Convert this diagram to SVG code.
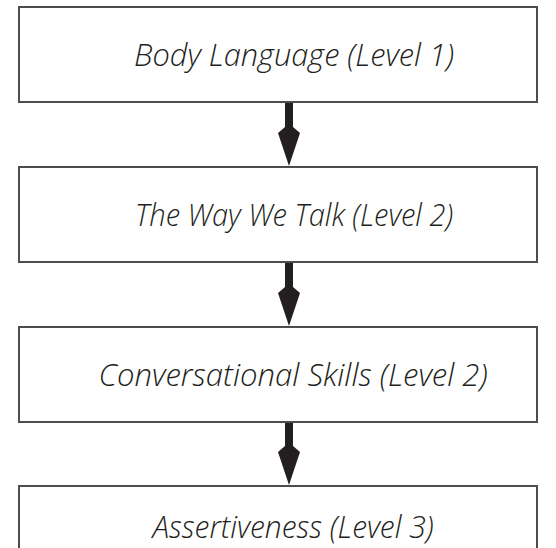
<svg xmlns="http://www.w3.org/2000/svg" width="556" height="548" viewBox="0 0 556 548">
  <style>
    .box { fill: #ffffff; stroke: #4d4d4d; stroke-width: 2; }
    .label { font-family: "Open Sans", "Noto Sans", sans-serif; font-style: italic; font-weight: 360; font-size: 32px; fill: #231f20; text-anchor: middle; }
    .arrow { fill: #231f20; }
  </style>
  <defs>
    <!-- thick down arrow: shaft plus swept-back head, tip at (0,0) -->
    <path id="down" d="M -4 -65 L 4 -65 L 4 -39 L 11 -33 L 0 0 L -11 -33 L -4 -39 Z"/>
  </defs>
  <rect width="556" height="548" fill="#ffffff"/>

  <g id="connectors" class="arrow">
    <use href="#down" x="289" y="166"/>
    <use href="#down" x="289" y="326"/>
    <use href="#down" x="289" y="485"/>
  </g>

  <g id="node-body-language">
    <rect class="box" x="19" y="7" width="518" height="95"/>
    <text class="label" x="294" y="66" textLength="320" lengthAdjust="spacingAndGlyphs">Body Language (Level 1)</text>
  </g>
  <g id="node-way-we-talk">
    <rect class="box" x="19" y="167" width="518" height="95"/>
    <text class="label" x="294" y="226" textLength="318" lengthAdjust="spacingAndGlyphs">The Way We Talk (Level 2)</text>
  </g>
  <g id="node-conversational-skills">
    <rect class="box" x="19" y="327" width="518" height="95"/>
    <text class="label" x="293" y="386" textLength="389" lengthAdjust="spacingAndGlyphs">Conversational Skills (Level 2)</text>
  </g>
  <g id="node-assertiveness">
    <rect class="box" x="19" y="486" width="518" height="95"/>
    <text class="label" x="293" y="538" textLength="281" lengthAdjust="spacingAndGlyphs">Assertiveness (Level 3)</text>
  </g>
</svg>
